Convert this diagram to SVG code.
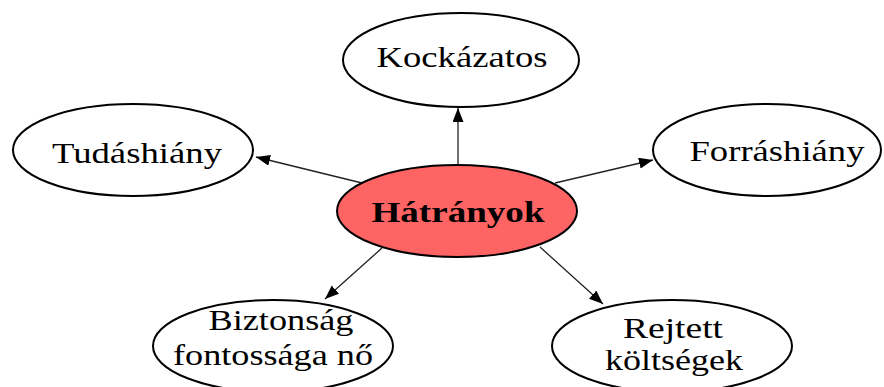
<svg xmlns="http://www.w3.org/2000/svg" width="884" height="387" viewBox="0 0 884 387">
  <defs>
    <marker id="arrow" markerUnits="userSpaceOnUse" markerWidth="15" markerHeight="12" refX="14" refY="5.5" orient="auto">
      <path d="M0,0 L14,5.5 L0,11 z" fill="#000"/>
    </marker>
    <style>
      .node { fill: #fff; stroke: #000; stroke-width: 2; }
      .core { fill: #ff6464; stroke: #000; stroke-width: 2; }
      .label { font-family: "Liberation Serif", "Times New Roman", serif; font-size: 30px; fill: #000; text-anchor: middle; }
      .bold { font-weight: bold; }
      .edge { stroke: #222; stroke-width: 1.3; fill: none; marker-end: url(#arrow); }
    </style>
  </defs>
  <rect width="884" height="387" fill="#fff"/>

  <g id="connectors">
    <line class="edge" x1="458" y1="165" x2="458" y2="108"/>
    <line class="edge" x1="362" y1="183" x2="256" y2="157"/>
    <line class="edge" x1="555" y1="183" x2="653" y2="160"/>
    <line class="edge" x1="382" y1="248" x2="325" y2="299"/>
    <line class="edge" x1="540" y1="247" x2="603" y2="304"/>
  </g>

  <g id="hatranyok">
    <ellipse class="core" cx="457" cy="211" rx="120" ry="46"/>
    <text class="label bold" x="458" y="222" textLength="173" lengthAdjust="spacingAndGlyphs">Hátrányok</text>
  </g>

  <g id="kockazatos">
    <ellipse class="node" cx="461" cy="60" rx="118" ry="47"/>
    <text class="label" x="462" y="67" textLength="171" lengthAdjust="spacingAndGlyphs">Kockázatos</text>
  </g>

  <g id="tudashiany">
    <ellipse class="node" cx="133" cy="150" rx="120" ry="46"/>
    <text class="label" x="137" y="163" textLength="170" lengthAdjust="spacingAndGlyphs">Tudáshiány</text>
  </g>

  <g id="forrashiany">
    <ellipse class="node" cx="767" cy="150" rx="114" ry="46"/>
    <text class="label" x="777" y="161" textLength="175" lengthAdjust="spacingAndGlyphs">Forráshiány</text>
  </g>

  <g id="biztonsag">
    <ellipse class="node" cx="273" cy="346" rx="120" ry="46"/>
    <text class="label" x="281" y="330" textLength="145" lengthAdjust="spacingAndGlyphs">Biztonság</text>
    <text class="label" x="273" y="365" textLength="200" lengthAdjust="spacingAndGlyphs">fontossága nő</text>
  </g>

  <g id="rejtett">
    <ellipse class="node" cx="672" cy="346" rx="120" ry="46"/>
    <text class="label" x="673" y="338" textLength="100" lengthAdjust="spacingAndGlyphs">Rejtett</text>
    <text class="label" x="674" y="370" textLength="138" lengthAdjust="spacingAndGlyphs">költségek</text>
  </g>
</svg>
